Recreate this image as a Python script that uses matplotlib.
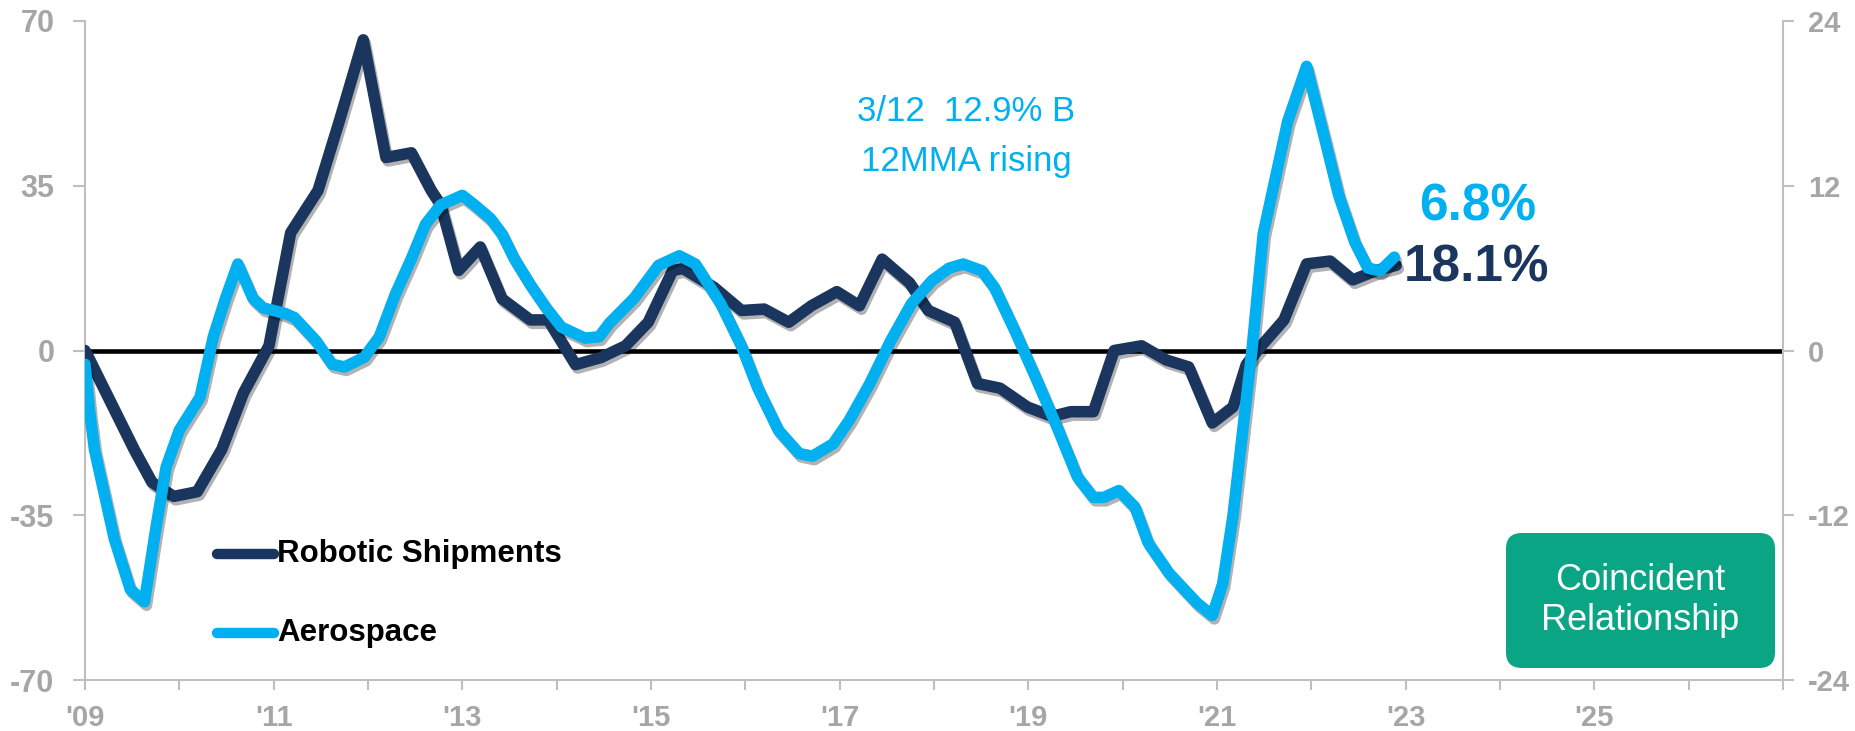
import numpy as np
import matplotlib
matplotlib.use("Agg")
import matplotlib.pyplot as plt
import matplotlib.patheffects as pe
from matplotlib.patches import FancyBboxPatch

plt.rcParams['font.family'] = ['Liberation Sans', 'DejaVu Sans']
plt.rcParams['axes.unicode_minus'] = False

# Robotic Shipments (left axis, %)
robot_x = [2009.0, 2009.52, 2009.71, 2009.94, 2010.19, 2010.45, 2010.68, 2010.95,
           2011.18, 2011.47, 2011.7, 2011.95, 2012.19, 2012.46, 2012.67, 2012.77,
           2012.96, 2013.19, 2013.42, 2013.72, 2013.91, 2014.2, 2014.47, 2014.73,
           2014.97, 2015.23, 2015.34, 2015.67, 2015.96, 2016.2, 2016.46, 2016.7,
           2016.97, 2017.21, 2017.45, 2017.74, 2017.94, 2018.22, 2018.46, 2018.7,
           2018.99, 2019.25, 2019.45, 2019.69, 2019.91, 2020.2, 2020.46, 2020.7,
           2020.95, 2021.17, 2021.31, 2021.47, 2021.71, 2021.95, 2022.2, 2022.44,
           2022.69, 2022.9]
robot_y = [0, -21, -28, -31, -30, -21, -9, 1,
           25, 34, 49, 66, 41, 42, 34, 31,
           17, 22, 11, 6.5, 6.5, -3, -1.5, 1,
           6, 17, 17.4, 13.4, 8.5, 8.8, 6, 9.5,
           12.5, 9.5, 19.4, 14.4, 8.5, 6, -7, -8,
           -12, -14, -13, -13, 0, 1, -2, -3.5,
           -15.4, -12, -3, 1, 6.5, 18.4, 19, 15,
           17, 18.1]

# Aerospace (right axis, %)
aero_x = [2009.0, 2009.05, 2009.1, 2009.31, 2009.48, 2009.63, 2009.75, 2009.86,
          2010.0, 2010.22, 2010.36, 2010.49, 2010.62, 2010.78, 2010.89, 2011.12,
          2011.22, 2011.45, 2011.62, 2011.75, 2011.96, 2012.12, 2012.29, 2012.46,
          2012.61, 2012.77, 2013.0, 2013.13, 2013.3, 2013.42, 2013.55, 2013.72,
          2013.89, 2014.05, 2014.3, 2014.45, 2014.56, 2014.82, 2015.08, 2015.3,
          2015.47, 2015.74, 2015.96, 2016.13, 2016.35, 2016.57, 2016.71, 2016.93,
          2017.1, 2017.32, 2017.54, 2017.76, 2017.98, 2018.16, 2018.31, 2018.51,
          2018.64, 2018.86, 2019.08, 2019.3, 2019.52, 2019.69, 2019.8, 2019.96,
          2020.13, 2020.27, 2020.49, 2020.68, 2020.79, 2020.95, 2021.06, 2021.17,
          2021.27, 2021.37, 2021.49, 2021.62, 2021.75, 2021.95, 2022.15, 2022.29,
          2022.46, 2022.6, 2022.73, 2022.88]
aero_y = [-1, -4.5, -7.2, -13.7, -17.4, -18.3, -13, -8.5,
          -5.8, -3.4, 1, 3.8, 6.3, 3.8, 3.1, 2.7,
          2.4, 0.7, -1, -1.2, -0.5, 1, 4.1, 6.7,
          9.2, 10.6, 11.3, 10.6, 9.6, 8.5, 6.7, 4.8,
          3.1, 1.7, 0.9, 1, 2, 3.8, 6.2, 6.9,
          6.3, 3.4, 0.3, -2.7, -5.8, -7.5, -7.7, -6.8,
          -5.1, -2.4, 0.7, 3.4, 5.1, 6, 6.3, 5.8,
          4.6, 1.4, -2, -5.5, -9.2, -10.7, -10.7, -10.2,
          -11.4, -14, -16.2, -17.6, -18.4, -19.3, -17, -12,
          -6, 0, 8.5, 12.6, 16.7, 20.7, 15.2, 11.3,
          7.9, 6, 5.8, 6.8]

years = list(range(2009, 2028))
labels = ["'%02d" % (y % 100) if (y - 2009) % 2 == 0 and y < 2027 else "" for y in years]

navy = '#1b365e'
sky = '#00b0f0'
grey = '#a6a6a6'
spine = '#bfbfbf'
green = '#0aa585'

fig = plt.figure(figsize=(18.55, 7.31), dpi=100)
ax = fig.add_axes([85/1855, 1 - 680/731, (1783-85)/1855, (680-21)/731])
ax2 = ax.twinx()

shadow = [pe.SimpleLineShadow(offset=(1.5, -2.5), alpha=0.3, shadow_color='black'), pe.Normal()]

ax.axhline(0, color='black', lw=3.3, zorder=1)
ax.plot(robot_x, robot_y, color=navy, lw=8.3, solid_joinstyle='round', solid_capstyle='round',
        path_effects=shadow, zorder=3)
ax2.plot(aero_x, aero_y, color=sky, lw=8.3, solid_joinstyle='round', solid_capstyle='round',
         path_effects=shadow, zorder=4)

ax.set_xlim(2009, 2027)
ax.set_ylim(-70, 70)
ax2.set_ylim(-24, 24)
ax.set_yticks([-70, -35, 0, 35, 70])
ax2.set_yticks([-24, -12, 0, 12, 24])
ax.set_xticks(years)
ax.set_xticklabels(labels)

for a in (ax, ax2):
    a.spines['top'].set_visible(False)
    for s in ('left', 'right', 'bottom'):
        a.spines[s].set_color(spine)
        a.spines[s].set_linewidth(1.5)
ax.spines['right'].set_visible(False)
ax2.spines['left'].set_visible(False)
ax2.spines['bottom'].set_visible(False)

ax.tick_params(axis='y', length=9, width=1.5, color=spine, pad=13, labelsize=22, labelcolor=grey)
ax2.tick_params(axis='y', length=8, width=1.5, color=spine, pad=10, labelsize=21, labelcolor=grey)
ax.tick_params(axis='x', length=7, width=1.5, color=spine, pad=10, labelsize=21, labelcolor=grey)
for lbl in ax.get_xticklabels() + ax.get_yticklabels() + ax2.get_yticklabels():
    lbl.set_fontweight('bold')

ax2.set_zorder(ax.get_zorder() + 1)
ax.patch.set_visible(False)

# annotations
ax.text(2018.34, 50.8, "3/12  12.9% B", color=sky, fontsize=25, ha='center', va='center')
ax.text(2018.34, 40.1, "12MMA rising", color=sky, fontsize=25, ha='center', va='center')
ax.text(2023.76, 30.5, "6.8%", color=sky, fontsize=37, fontweight='bold', ha='center', va='center')
ax.text(2023.75, 17.5, "18.1%", color=navy, fontsize=37, fontweight='bold', ha='center', va='center')

# legend drawn by hand
ax.plot([2010.4, 2011.0], [-43.3, -43.3], color=navy, lw=7.5, solid_capstyle='round', zorder=5)
ax.text(2011.04, -43.3, "Robotic Shipments", fontsize=22.5, fontweight='bold', color='black', va='center')
ax.plot([2010.4, 2011.0], [-60.1, -60.1], color=sky, lw=7.5, solid_capstyle='round', zorder=5)
ax.text(2011.04, -60.1, "Aerospace", fontsize=22.5, fontweight='bold', color='black', va='center')

# green box
bx0, by0, bw, bh = 1506/1855, 1 - 668/731, 269/1855, 135/731
box = FancyBboxPatch((bx0, by0), bw, bh, boxstyle='round,pad=0,rounding_size=0.0085',
                     mutation_aspect=1855/731, transform=fig.transFigure,
                     facecolor=green, edgecolor='none', zorder=10)
fig.patches.append(box)
fig.text(bx0 + bw/2, by0 + bh/2, "Coincident\nRelationship", fontsize=26, color='white',
         ha='center', va='center', linespacing=1.2, zorder=11)

fig.savefig('out.png', dpi=100)
